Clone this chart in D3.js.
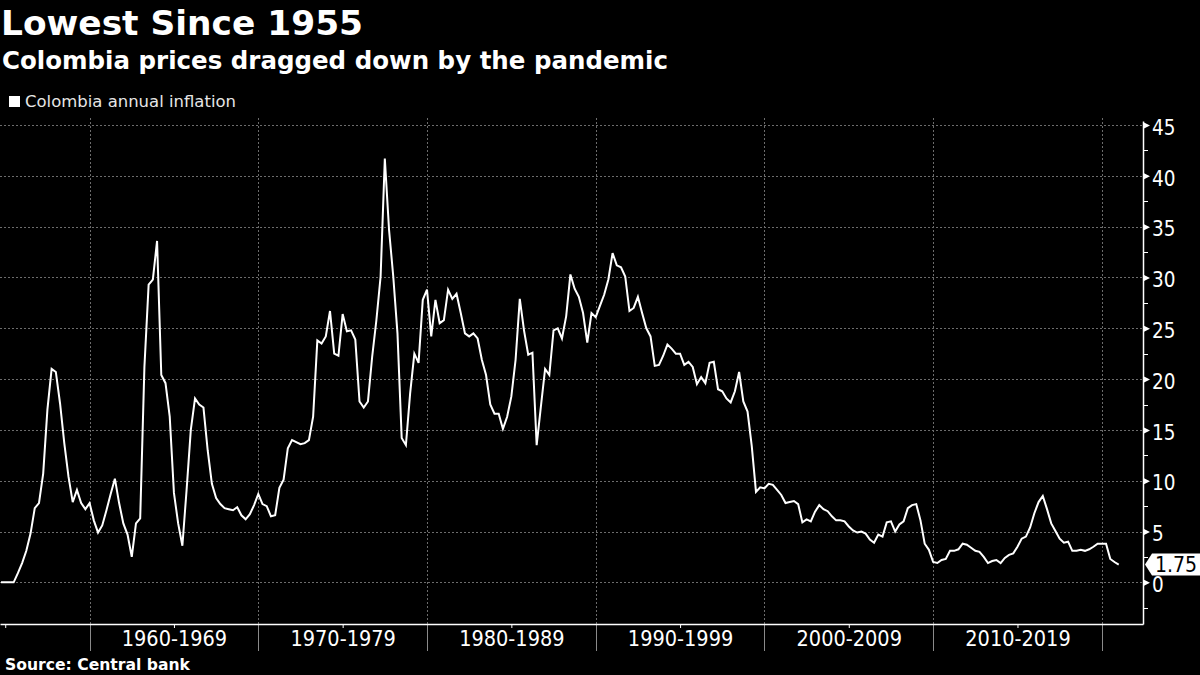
<!DOCTYPE html>
<html>
<head>
<meta charset="utf-8">
<script src="https://cdn.jsdelivr.net/npm/d3@7"></script>
<style>
  html, body { margin: 0; padding: 0; background: #000; }
  svg { display: block; }
  .cond { font-family: "DejaVu Sans Condensed", "DejaVu Sans", sans-serif; font-stretch: condensed; }
</style>
</head>
<body>
<svg id="chart" width="1200" height="675"></svg>
<script>
// ---------------- data ----------------
const title = "Lowest Since 1955";
const subtitle = "Colombia prices dragged down by the pandemic";
const seriesName = "Colombia annual inflation";
const sourceText = "Source: Central bank";

// quarterly observations, first one is 1954 Q4 (decimal year 1954.75)
const firstQuarter = 1954.75;
const inflation = [
  0,                          // 1954
  0, 0, 0, 0.9,               // 1955
  1.9, 3.1, 4.8, 7.3,         // 1956
  7.8, 10.7, 17.0, 21.0,      // 1957
  20.7, 17.6, 13.7, 10.4,     // 1958
  7.9, 9.1, 7.8, 7.2,         // 1959
  7.8, 6.1, 4.9, 5.6,         // 1960
  7.1, 8.7, 10.2, 7.8,        // 1961
  5.8, 4.7, 2.5, 5.8,         // 1962
  6.3, 21.2, 29.3, 29.8,      // 1963
  33.6, 20.4, 19.6, 16.3,     // 1964
  8.8, 5.8, 3.6, 9.1,         // 1965
  15.0, 18.1, 17.5, 17.2,     // 1966
  13.0, 9.7, 8.3, 7.7,        // 1967
  7.3, 7.2, 7.1, 7.4,         // 1968
  6.6, 6.2, 6.7, 7.6,         // 1969
  8.7, 7.7, 7.5, 6.5,         // 1970
  6.6, 9.3, 10.1, 13.2,       // 1971
  14.0, 13.8, 13.6, 13.7,     // 1972
  14.0, 16.3, 23.8, 23.5,     // 1973
  24.2, 26.7, 22.5, 22.3,     // 1974
  26.4, 24.7, 24.8, 23.9,     // 1975
  17.8, 17.2, 17.8, 22.2,     // 1976
  25.8, 30.1, 41.7, 34.7,     // 1977
  30.1, 24.5, 14.2, 13.5,     // 1978
  18.6, 22.5, 21.6, 27.8,     // 1979
  28.8, 24.2, 27.8, 25.5,     // 1980
  25.8, 28.8, 27.9, 28.4,     // 1981
  26.5, 24.5, 24.2, 24.5,     // 1982
  24.0, 21.9, 20.4, 17.5,     // 1983
  16.6, 16.6, 15.1, 16.3,     // 1984
  18.3, 21.9, 27.9, 24.8,     // 1985
  22.4, 22.6, 13.5, 17.3,     // 1986
  21.0, 20.4, 24.8, 25.0,     // 1987
  24.0, 26.2, 30.3, 28.9,     // 1988
  28.1, 26.5, 23.6, 26.5,     // 1989
  26.1, 27.2, 28.3, 29.8,     // 1990
  32.4, 31.2, 31.0, 30.1,     // 1991
  26.7, 27.0, 28.1, 26.5,     // 1992
  25.0, 24.2, 21.3, 21.4,     // 1993
  22.3, 23.4, 23.0, 22.5,     // 1994
  22.5, 21.4, 21.7, 21.2,     // 1995
  19.5, 20.2, 19.6, 21.6,     // 1996
  21.7, 19.0, 18.8, 18.1,     // 1997
  17.7, 18.8, 20.7, 17.8,     // 1998
  16.8, 13.4, 8.9, 9.35,      // 1999
  9.25, 9.7, 9.6, 9.1,        // 2000
  8.6, 7.8, 7.9, 8.0,         // 2001
  7.7, 5.9, 6.2, 6.0,         // 2002
  6.95, 7.6, 7.2, 7.0,        // 2003
  6.5, 6.1, 6.1, 6.0,         // 2004
  5.5, 5.1, 4.9, 5.0,         // 2005
  4.8, 4.2, 3.9, 4.7,         // 2006
  4.5, 5.9, 6.0, 5.0,         // 2007
  5.7, 6.0, 7.3, 7.6,         // 2008
  7.7, 6.1, 3.8, 3.2,         // 2009
  2.0, 1.9, 2.2, 2.3,         // 2010
  3.1, 3.1, 3.25, 3.8,        // 2011
  3.7, 3.4, 3.1, 3.0,         // 2012
  2.5, 1.9, 2.1, 2.2,         // 2013
  1.9, 2.4, 2.7, 2.85,        // 2014
  3.5, 4.3, 4.5, 5.4,         // 2015
  6.8, 7.9, 8.5, 7.2,         // 2016
  5.8, 5.05, 4.3, 3.9,        // 2017
  4.0, 3.1, 3.1, 3.2,         // 2018
  3.1, 3.25, 3.5, 3.8,        // 2019
  3.8, 3.8, 2.3, 2.0,         // 2020
  1.75                        // latest
];
const lastValueLabel = "1.75";

const yTicks = [0, 5, 10, 15, 20, 25, 30, 35, 40, 45];
const yMinorTicks = [-2.5, 2.5, 7.5, 12.5, 17.5, 22.5, 27.5, 32.5, 37.5, 42.5];
const decadeBounds = [1960, 1970, 1980, 1990, 2000, 2010, 2020];
const decadeMids = [1955, 1965, 1975, 1985, 1995, 2005, 2015];
const decadeLabels = ["", "1960-1969", "1970-1979", "1980-1989", "1990-1999", "2000-2009", "2010-2019"];

// ---------------- chart ----------------
const data = inflation.map((v, i) => ({ t: firstQuarter + i * 0.25, v }));

const svg = d3.select("#chart");
svg.append("rect").attr("width", 1200).attr("height", 675).attr("fill", "#000");

const plotLeft = 0, plotRight = 1143, plotTop = 121, plotBottom = 624;
const x = d3.scaleLinear().domain([1954.69, 2022.44]).range([plotLeft, plotRight]);
const y = d3.scaleLinear().domain([-4.1, 45.4]).range([plotBottom, plotTop]);

const gridColor = "#6c6c6c";

// horizontal gridlines
svg.append("g").selectAll("line").data(yTicks).join("line")
  .attr("x1", plotLeft).attr("x2", plotRight)
  .attr("y1", d => Math.round(y(d)) + 0.5).attr("y2", d => Math.round(y(d)) + 0.5)
  .attr("stroke", gridColor).attr("stroke-width", 1).attr("stroke-dasharray", "2,2");

// vertical gridlines at decade boundaries (extend down through the label row)
svg.append("g").selectAll("line").data(decadeBounds).join("line")
  .attr("x1", d => Math.round(x(d)) + 0.5).attr("x2", d => Math.round(x(d)) + 0.5)
  .attr("y1", plotTop - 3).attr("y2", plotBottom)
  .attr("stroke", gridColor).attr("stroke-width", 1).attr("stroke-dasharray", "2,2");
svg.append("g").selectAll("line").data(decadeBounds).join("line")
  .attr("x1", d => Math.round(x(d)) + 0.5).attr("x2", d => Math.round(x(d)) + 0.5)
  .attr("y1", plotBottom).attr("y2", 651)
  .attr("stroke", "#8a8a8a").attr("stroke-width", 1);

// bottom axis
const xAxis = d3.axisBottom(x)
  .tickValues(decadeMids)
  .tickSize(4)
  .tickSizeOuter(0)
  .tickFormat((d, i) => decadeLabels[i]);
const gx = svg.append("g").attr("transform", `translate(0,${plotBottom})`).call(xAxis);
gx.select(".domain").attr("stroke", "#fff").attr("stroke-width", 1.5);
gx.selectAll(".tick line").attr("stroke", "#fff");
gx.selectAll(".tick text")
  .attr("class", "cond")
  .attr("fill", "#fff").attr("font-size", 21.5).attr("y", 14).attr("dy", "0.35em");

// right axis
const yAxis = d3.axisRight(y).tickValues(yTicks).tickSize(0).tickSizeOuter(0).tickFormat(d3.format("d"));
const gy = svg.append("g").attr("transform", `translate(${plotRight},0)`).call(yAxis);
gy.select(".domain").attr("stroke", "#fff").attr("stroke-width", 1.5);
gy.selectAll(".tick text")
  .attr("class", "cond")
  .attr("fill", "#fff").attr("font-size", 20.5).attr("x", 9).attr("y", 2).attr("dy", "0.35em");
// major tick flags
gy.selectAll(".tick").append("path")
  .attr("d", "M0,-3.5L7,0L0,3.5Z").attr("fill", "#fff");
// minor ticks
svg.append("g").selectAll("line").data(yMinorTicks).join("line")
  .attr("x1", plotRight).attr("x2", plotRight + 5)
  .attr("y1", d => Math.round(y(d)) + 0.5).attr("y2", d => Math.round(y(d)) + 0.5)
  .attr("stroke", "#fff").attr("stroke-width", 1);

// series line
const line = d3.line().x(d => x(d.t)).y(d => y(d.v));
svg.append("path").datum(data)
  .attr("d", line)
  .attr("fill", "none").attr("stroke", "#fff").attr("stroke-width", 2)
  .attr("stroke-linejoin", "miter");

// last value badge
const last = data[data.length - 1];
const by = y(last.v);
const badge = svg.append("g").attr("transform", `translate(${plotRight + 2},${by})`);
badge.append("path")
  .attr("d", "M0,0L7,-11L60,-11L60,11L7,11Z")
  .attr("fill", "#fff");
badge.append("text").attr("class", "cond")
  .attr("x", 10).attr("y", 0).attr("dy", "0.35em")
  .attr("font-size", 21).attr("fill", "#000")
  .text(lastValueLabel);

// titles
svg.append("text").attr("x", 1).attr("y", 35)
  .attr("font-family", "DejaVu Sans, sans-serif").attr("font-weight", "bold")
  .attr("font-size", 34).attr("fill", "#fff")
  .attr("textLength", 362).attr("lengthAdjust", "spacingAndGlyphs")
  .text(title);
svg.append("text").attr("x", 2).attr("y", 69)
  .attr("font-family", "DejaVu Sans, sans-serif").attr("font-weight", "bold")
  .attr("font-size", 25).attr("fill", "#fff")
  .attr("textLength", 666).attr("lengthAdjust", "spacingAndGlyphs")
  .text(subtitle);

// legend
svg.append("rect").attr("x", 9).attr("y", 96).attr("width", 11).attr("height", 11).attr("fill", "#fff");
svg.append("text").attr("x", 25).attr("y", 107)
  .attr("font-family", "DejaVu Sans, sans-serif").attr("font-size", 16.5).attr("fill", "#e6e6e6")
  .attr("textLength", 211).attr("lengthAdjust", "spacingAndGlyphs")
  .text(seriesName);

// source
svg.append("text").attr("x", 5).attr("y", 670)
  .attr("font-family", "DejaVu Sans, sans-serif").attr("font-weight", "bold")
  .attr("font-size", 15.6).attr("fill", "#fff")
  .attr("textLength", 185).attr("lengthAdjust", "spacingAndGlyphs")
  .text(sourceText);
</script>
</body>
</html>
